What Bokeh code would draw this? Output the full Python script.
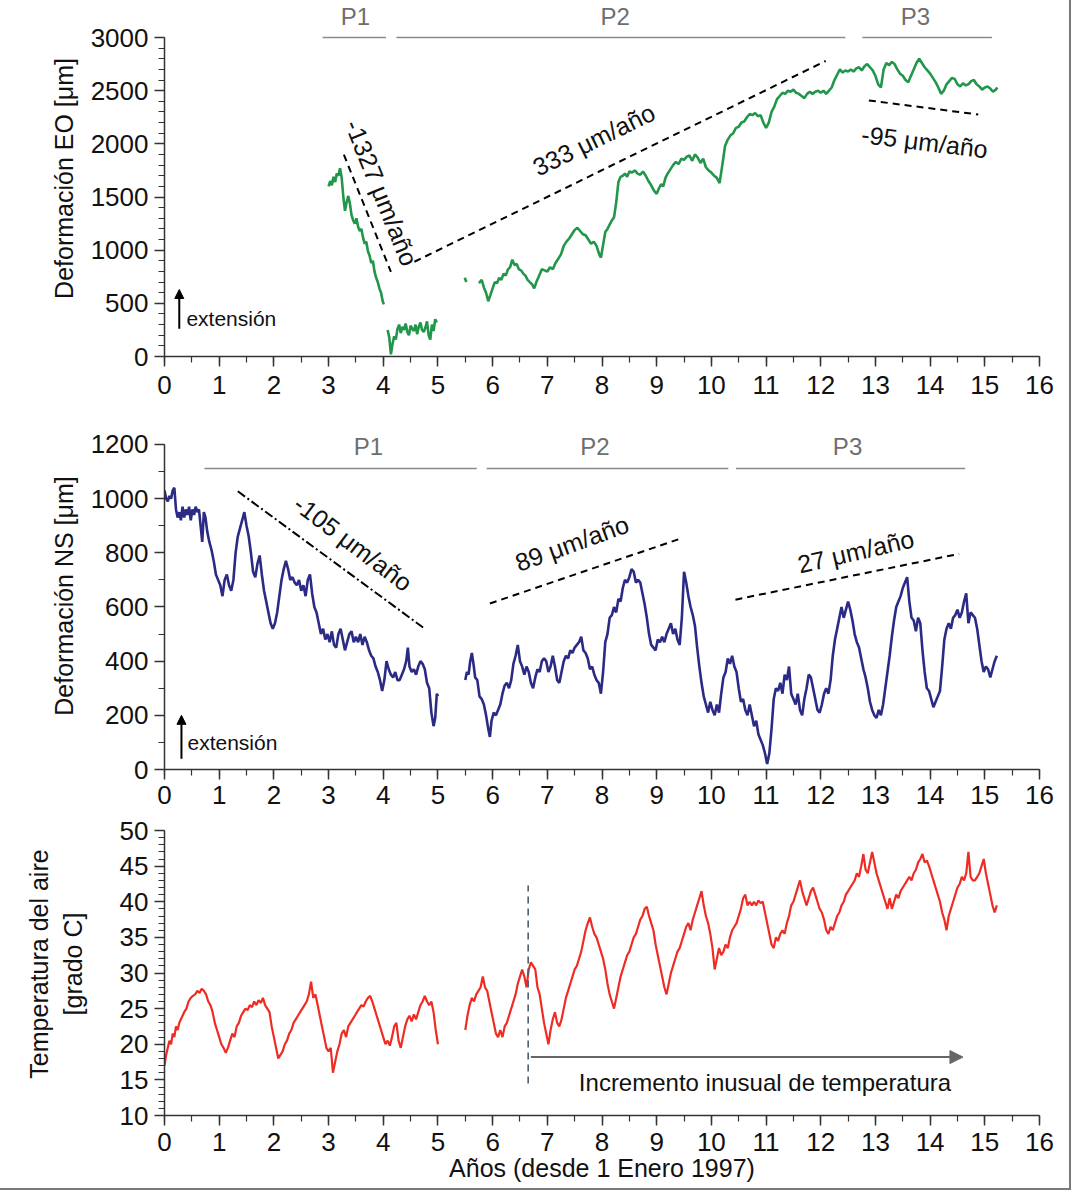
from bokeh.plotting import figure
from bokeh.layouts import column
from bokeh.models import Range1d, Label, Arrow, NormalHead, SingleIntervalTicker
from bokeh.embed import file_html
from bokeh.resources import INLINE
from bokeh.core.properties import value

FONT = "Liberation Sans"

# ---------------- DATA ----------------
# Panel 1: Deformación EO [µm]
eo_a_x = [3.00,3.03,3.06,3.09,3.12,3.15,3.18,3.21,3.24,3.27,3.30,3.33,3.36,3.39,3.42,3.45,3.48,3.51,3.54,3.57,3.60,3.63,3.66,3.69,3.72,3.75,3.78,3.81,3.84,3.87,3.90,3.93,3.96,3.99,4.01]
eo_a_y = [1600,1650,1610,1690,1640,1720,1700,1770,1680,1500,1370,1450,1510,1440,1330,1280,1250,1300,1220,1180,1200,1120,1060,1080,990,950,880,900,800,740,700,640,600,520,490]
eo_b_x = [4.08,4.11,4.14,4.17,4.20,4.23,4.26,4.29,4.32,4.35,4.38,4.41,4.44,4.47,4.50,4.53,4.56,4.59,4.62,4.65,4.68,4.71,4.74,4.77,4.80,4.83,4.86,4.89,4.92,4.95,4.98]
eo_b_y = [250,180,20,120,190,160,260,300,220,280,250,310,230,200,290,260,240,300,210,280,320,250,230,270,330,200,160,300,240,350,320]
eo_c_x = [5.49,5.52]
eo_c_y = [740,700]
eo_d_x = [5.75,5.80,5.84,5.88,5.92,5.96,6.00,6.04,6.08,6.12,6.16,6.20,6.24,6.28,6.32,6.36,6.40,6.44,6.48,6.52,6.56,6.60,6.64,6.68,6.72,6.76,6.80,6.85,6.90,6.95,
          7.00,7.05,7.10,7.15,7.20,7.25,7.30,7.35,7.40,7.45,7.50,7.55,7.60,7.65,7.70,7.75,7.80,7.85,7.90,7.95,7.98,8.02,8.06,8.10,8.14,8.18,8.22,8.26,8.30,8.34,
          8.38,8.42,8.46,8.50,8.55,8.60,8.65,8.70,8.75,8.80,8.85,8.90,8.95,9.00,9.04,9.08,9.12,9.16,9.20,9.25,9.30,9.35,9.40,9.45,9.50,9.55,9.60,9.65,9.70,9.75,
          9.80,9.85,9.90,9.95,10.00,10.05,10.10,10.15,10.20,10.25,10.30,10.35,10.40,10.45,10.50,10.55,10.60,10.65,10.70,10.75,10.80,10.85,10.90,10.95,11.00,
          11.05,11.10,11.15,11.20,11.25,11.30,11.35,11.40,11.45,11.50,11.55,11.60,11.65,11.70,11.75,11.80,11.85,11.90,11.95,12.00,12.05,12.10,12.15,12.20,12.25,
          12.30,12.35,12.40,12.45,12.50,12.55,12.60,12.65,12.70,12.75,12.80,12.85,12.90,12.95,13.00,13.05,13.10,13.15,13.20,13.25,13.30,13.35,13.40,13.45,13.50,
          13.55,13.60,13.65,13.70,13.75,13.80,13.85,13.90,13.95,14.00,14.05,14.10,14.15,14.20,14.25,14.30,14.35,14.40,14.45,14.50,14.55,14.60,14.65,14.70,14.75,
          14.80,14.85,14.90,14.95,15.00,15.05,15.10,15.15,15.20,15.23]
eo_d_y = [690,720,650,600,520,580,640,700,690,740,720,780,760,820,840,910,860,870,820,810,780,760,720,700,680,640,700,760,820,810,
          800,840,820,880,920,960,1040,1080,1110,1150,1190,1210,1180,1150,1140,1100,1060,1080,1040,960,930,1050,1170,1200,1240,1280,1310,1450,1640,1690,
          1700,1720,1690,1740,1730,1750,1720,1710,1740,1700,1650,1610,1560,1530,1580,1620,1600,1680,1720,1760,1800,1830,1810,1860,1850,1880,1890,1840,1900,1870,
          1820,1860,1780,1750,1730,1700,1680,1630,1800,1980,2040,2080,2100,2150,2160,2200,2210,2250,2280,2270,2290,2260,2270,2200,2150,
          2200,2300,2350,2420,2450,2480,2470,2500,2490,2510,2480,2470,2450,2430,2470,2490,2470,2490,2500,2480,2500,2470,2500,2530,2600,
          2650,2700,2670,2690,2680,2700,2680,2710,2720,2690,2730,2750,2720,2690,2640,2560,2530,2700,2760,2740,2770,2750,2700,2660,2640,
          2600,2580,2640,2700,2760,2800,2760,2720,2690,2660,2620,2580,2530,2470,2500,2560,2590,2620,2610,2560,2540,2570,2550,2560,2590,
          2600,2560,2540,2510,2530,2540,2520,2490,2510,2530]

# Panel 2: Deformación NS [µm]
ns_a_x = [0.00,0.03,0.06,0.09,0.12,0.15,0.18,0.21,0.24,0.27,0.30,0.33,0.36,0.39,0.42,0.45,0.48,0.51,0.54,0.57,0.60,0.63,0.66,0.69,0.72,0.75,0.78,0.82,0.86,0.90,
          0.94,0.98,1.02,1.06,1.10,1.14,1.18,1.22,1.26,1.30,1.34,1.38,1.42,1.46,1.50,1.54,1.58,1.62,1.66,1.70,1.74,1.78,1.82,1.86,1.90,1.94,1.98,2.02,2.06,2.10,
          2.14,2.18,2.22,2.26,2.30,2.34,2.38,2.42,2.46,2.50,2.54,2.58,2.62,2.66,2.70,2.74,2.78,2.82,2.86,2.90,2.94,2.98,3.02,3.06,3.10,3.14,3.18,3.22,3.26,3.30,
          3.34,3.38,3.42,3.46,3.50,3.54,3.58,3.62,3.66,3.70,3.74,3.78,3.82,3.86,3.90,3.94,3.98,4.02,4.06,4.10,4.14,4.18,4.22,4.26,4.30,4.34,4.38,4.42,4.45,4.48,
          4.52,4.56,4.60,4.64,4.68,4.72,4.76,4.80,4.84,4.88,4.92,4.95,4.98,5.00]
ns_a_y = [1030,1000,990,1010,1000,1030,1040,960,930,950,920,970,930,960,940,970,920,960,940,970,950,960,900,840,950,930,880,840,810,770,
          720,700,680,640,700,720,680,660,700,800,860,890,920,950,900,860,800,730,710,760,790,720,660,620,580,540,520,540,580,640,
          700,740,770,740,700,710,690,680,700,660,680,640,700,720,650,600,580,540,500,520,480,500,470,510,460,450,500,520,480,440,
          470,500,510,470,490,470,500,460,490,470,440,420,410,380,360,330,290,330,400,370,350,340,360,330,330,350,370,400,450,380,
          360,370,350,380,400,390,370,320,300,210,160,190,280,270]
ns_b_x = [5.50,5.53,5.56,5.59,5.62,5.65,5.68,5.72,5.76,5.80,5.84,5.88,5.92,5.95,5.98,6.02,6.06,6.10,6.14,6.18,6.22,6.26,6.30,6.34,6.38,6.42,6.46,6.50,6.54,6.58,
          6.62,6.66,6.70,6.74,6.78,6.82,6.86,6.90,6.94,6.98,7.02,7.06,7.10,7.14,7.18,7.22,7.26,7.30,7.34,7.38,7.42,7.46,7.50,7.54,7.58,7.62,7.66,7.70,7.74,7.78,
          7.82,7.86,7.90,7.94,7.98,8.02,8.06,8.10,8.14,8.18,8.22,8.26,8.30,8.34,8.38,8.42,8.46,8.50,8.54,8.58,8.62,8.66,8.70,8.74,8.78,8.82,8.86,8.90,8.94,8.98,
          9.02,9.06,9.10,9.14,9.18,9.22,9.26,9.30,9.34,9.38,9.42,9.46,9.50,9.54,9.58,9.62,9.66,9.70,9.74,9.78,9.82,9.86,9.90,9.94,9.98,10.02,10.06,10.10,10.14,10.18,
          10.22,10.26,10.30,10.34,10.38,10.42,10.46,10.50,10.54,10.58,10.62,10.66,10.70,10.74,10.78,10.82,10.86,10.90,10.94,10.98,11.02,11.06,11.10,11.14,11.18,11.22,11.26,11.30,11.34,11.38,
          11.42,11.46,11.50,11.54,11.58,11.62,11.66,11.70,11.74,11.78,11.82,11.86,11.90,11.94,11.98,12.02,12.06,12.10,12.14,12.18,12.22,12.26,12.30,12.34,12.38,12.42,12.46,12.50,12.54,12.58,
          12.62,12.66,12.70,12.74,12.78,12.82,12.86,12.90,12.94,12.98,13.02,13.06,13.10,13.14,13.18,13.22,13.26,13.30,13.34,13.38,13.42,13.46,13.50,13.54,13.58,13.62,13.66,13.70,13.74,13.78,
          13.82,13.86,13.90,13.94,13.98,14.02,14.06,14.10,14.14,14.18,14.22,14.26,14.30,14.34,14.38,14.42,14.46,14.50,14.54,14.58,14.62,14.66,14.70,14.74,14.78,14.82,14.86,14.90,14.94,14.98,
          15.02,15.06,15.10,15.14,15.18,15.22]
ns_b_y = [330,360,350,400,430,390,340,330,270,260,240,200,150,120,180,210,200,220,240,280,310,320,300,330,390,420,460,400,380,350,
          380,360,320,300,340,370,360,400,410,400,360,380,420,380,330,320,360,400,420,410,440,430,450,460,470,490,440,430,410,370,
          380,350,330,320,280,360,470,500,560,570,600,580,630,620,670,700,690,710,740,730,690,700,690,650,610,560,500,460,450,440,
          480,470,490,470,500,520,540,500,520,480,460,560,730,690,640,600,570,530,450,380,320,270,240,210,250,220,200,240,210,280,
          340,360,410,390,420,380,360,300,250,260,220,200,240,200,160,180,130,110,90,60,20,60,150,260,300,290,320,280,350,330,
          380,280,260,240,280,220,200,260,300,350,340,300,260,220,210,240,280,300,280,330,420,480,520,560,600,560,590,620,590,550,
          500,470,450,410,370,340,300,250,220,200,190,220,200,240,300,360,420,490,550,600,620,640,670,690,710,620,560,550,510,560,
          540,440,360,300,290,260,230,250,270,290,380,480,520,540,520,560,570,590,560,580,620,650,540,580,570,560,520,460,400,360,
          380,370,340,370,400,420]

# Panel 3: Temperatura del aire [grado C]
ta_a_x = [0.00,0.03,0.06,0.09,0.12,0.15,0.18,0.21,0.24,0.27,0.30,0.33,0.36,0.40,0.44,0.48,0.52,0.56,0.60,0.64,0.68,0.72,0.76,0.80,0.84,0.88,0.92,0.96,1.00,1.04,
          1.08,1.12,1.16,1.20,1.24,1.28,1.32,1.36,1.40,1.44,1.48,1.52,1.56,1.60,1.64,1.68,1.72,1.76,1.80,1.84,1.88,1.92,1.96,2.00,2.04,2.08,2.12,2.16,2.20,2.24,
          2.28,2.32,2.36,2.40,2.44,2.48,2.52,2.56,2.60,2.64,2.68,2.72,2.76,2.80,2.84,2.88,2.92,2.96,3.00,3.04,3.08,3.12,3.16,3.20,3.24,3.28,3.32,3.36,3.40,3.44,
          3.48,3.52,3.56,3.60,3.64,3.68,3.72,3.76,3.80,3.84,3.88,3.92,3.96,4.00,4.04,4.08,4.12,4.16,4.20,4.24,4.28,4.32,4.36,4.40,4.44,4.48,4.52,4.56,4.60,4.64,
          4.68,4.72,4.76,4.80,4.84,4.88,4.92,4.96,5.00]
ta_a_y = [17.0,18.5,19.5,20.5,20.0,21.5,21.0,22.5,22.0,23.0,23.5,24.0,24.5,25.0,26.0,26.5,26.8,27.0,27.5,27.2,27.8,27.5,27.0,26.0,25.5,24.5,23.0,22.0,21.0,20.0,
          19.5,18.8,19.5,20.5,21.5,21.0,22.5,23.0,24.0,24.5,25.0,24.8,25.5,25.2,26.0,25.5,26.2,25.8,26.5,25.5,25.0,24.5,22.5,21.0,19.5,18.0,18.5,19.0,20.0,20.5,
          21.5,22.0,23.0,23.5,24.0,24.5,25.0,25.5,26.0,27.0,28.8,26.5,27.0,25.5,24.0,22.5,21.0,19.5,19.0,19.5,16.0,17.5,19.0,20.0,21.5,22.0,21.0,22.5,23.0,23.5,
          24.0,24.5,25.0,25.5,25.3,26.0,26.5,26.8,26.0,25.0,24.0,23.0,22.0,21.0,20.0,20.5,19.8,21.0,22.5,23.0,20.5,19.5,21.0,22.5,23.5,24.0,23.2,24.2,23.5,24.5,
          25.5,26.0,26.8,26.0,25.5,26.0,24.5,22.0,20.0]
ta_b_x = [5.50,5.54,5.58,5.62,5.66,5.70,5.74,5.78,5.82,5.86,5.90,5.94,5.98,6.02,6.06,6.10,6.14,6.18,6.22,6.26,6.30,6.34,6.38,6.42,6.46,6.50,6.54,6.58,6.62,6.66,
          6.70,6.74,6.78,6.82,6.86,6.90,6.94,6.98,7.02,7.06,7.10,7.14,7.18,7.22,7.26,7.30,7.34,7.38,7.42,7.46,7.50,7.54,7.58,7.62,7.66,7.70,7.74,7.78,7.82,7.86,
          7.90,7.94,7.98,8.02,8.06,8.10,8.14,8.18,8.22,8.26,8.30,8.34,8.38,8.42,8.46,8.50,8.54,8.58,8.62,8.66,8.70,8.74,8.78,8.82,8.86,8.90,8.94,8.98,9.02,9.06,
          9.10,9.14,9.18,9.22,9.26,9.30,9.34,9.38,9.42,9.46,9.50,9.54,9.58,9.62,9.66,9.70,9.74,9.78,9.82,9.86,9.90,9.94,9.98,10.02,10.06,10.10,10.14,10.18,10.22,10.26,
          10.30,10.34,10.38,10.42,10.46,10.50,10.54,10.58,10.62,10.66,10.70,10.74,10.78,10.82,10.86,10.90,10.94,10.98,11.02,11.06,11.10,11.14,11.18,11.22,11.26,11.30,11.34,11.38,11.42,11.46,
          11.50,11.54,11.58,11.62,11.66,11.70,11.74,11.78,11.82,11.86,11.90,11.94,11.98,12.02,12.06,12.10,12.14,12.18,12.22,12.26,12.30,12.34,12.38,12.42,12.46,12.50,12.54,12.58,12.62,12.66,
          12.70,12.74,12.78,12.82,12.86,12.90,12.94,12.98,13.02,13.06,13.10,13.14,13.18,13.22,13.26,13.30,13.34,13.38,13.42,13.46,13.50,13.54,13.58,13.62,13.66,13.70,13.74,13.78,13.82,13.86,
          13.90,13.94,13.98,14.02,14.06,14.10,14.14,14.18,14.22,14.26,14.30,14.34,14.38,14.42,14.46,14.50,14.54,14.58,14.62,14.66,14.70,14.74,14.78,14.82,14.86,14.90,14.94,14.98,15.02,15.06,
          15.10,15.14,15.18,15.22]
ta_b_y = [22.0,24.0,25.5,26.5,26.0,27.0,27.5,28.0,29.5,28.0,27.5,26.0,24.5,23.0,21.5,21.0,22.0,21.0,22.5,23.0,24.0,25.0,26.0,27.0,28.5,29.5,30.5,29.5,28.0,30.5,
          31.5,31.0,30.5,28.0,27.0,25.0,23.0,21.5,20.0,22.0,23.5,24.5,23.0,22.5,23.5,25.0,26.5,27.5,28.5,29.5,30.5,31.0,32.0,33.0,34.5,36.0,37.0,37.8,36.5,35.5,
          35.0,34.0,33.0,32.0,30.5,28.5,27.0,26.0,25.0,26.5,28.0,29.5,30.5,31.5,32.5,33.0,34.0,35.0,35.5,36.5,37.5,38.0,39.0,39.3,38.0,37.0,36.0,34.0,32.5,31.0,
          29.5,28.0,27.0,28.5,30.0,31.0,32.0,33.0,33.5,34.5,35.5,36.5,37.0,36.0,37.5,38.5,39.5,40.5,41.5,39.5,38.0,37.0,35.5,33.5,30.5,32.0,33.5,32.5,33.0,34.0,
          33.5,35.0,36.0,36.5,37.0,38.0,39.0,40.5,41.0,39.5,40.0,39.5,40.0,39.5,40.2,39.8,40.0,38.5,37.0,35.5,34.0,33.5,35.0,34.5,35.5,36.0,35.5,37.0,38.0,39.5,
          40.0,41.0,42.0,43.0,41.5,40.5,39.5,40.5,41.5,42.0,41.0,40.0,39.0,38.5,37.5,36.0,35.5,36.5,36.0,37.0,38.0,38.5,39.5,40.0,41.0,41.5,42.0,42.5,43.0,44.0,
          43.5,45.0,46.7,44.5,44.0,45.5,47.0,45.5,44.0,43.0,42.0,41.0,40.0,39.0,40.5,39.0,40.0,41.0,40.5,41.5,42.0,42.5,43.0,43.5,43.0,44.0,44.5,45.5,46.0,46.7,
          45.5,45.8,45.0,44.0,43.0,42.0,41.0,40.0,38.5,37.5,36.0,38.0,39.0,40.0,41.0,42.0,42.5,43.5,43.0,44.0,47.0,43.5,43.0,43.0,43.5,44.0,45.0,46.0,44.0,42.5,
          41.0,39.5,38.5,39.5]

# Periods (start, end, label) and trend lines (rates)
eo_period_start = [2.89, 4.24, 12.76]
eo_period_end = [4.05, 12.45, 15.13]
eo_period_label = ["P1", "P2", "P3"]
eo_period_label_x = [3.49, 8.24, 13.73]
ns_period_start = [0.73, 5.89, 10.45]
ns_period_end = [5.71, 10.31, 14.64]
ns_period_label = ["P1", "P2", "P3"]
ns_period_label_x = [3.73, 7.87, 12.49]

eo_trend1_x, eo_trend1_y = [3.28, 4.14], [1898, 796]
eo_trend2_x, eo_trend2_y = [4.57, 12.09], [891, 2779]
eo_trend3_x, eo_trend3_y = [12.88, 14.88], [2408, 2276]
ns_trend1_x, ns_trend1_y = [1.34, 4.75], [1027, 521]
ns_trend2_x, ns_trend2_y = [5.95, 9.40], [613, 850]
ns_trend3_x, ns_trend3_y = [10.44, 14.53], [627, 796]

onset_year = 6.65

GREEN = "#22964a"
NAVY = "#2b2a85"
RED = "#ee2c24"
AXIS = "#333333"


def make_fig(height, ylo, yhi, bleft, bright, bbottom):
    p = figure(width=1066, height=height, x_range=Range1d(0, 16), y_range=Range1d(ylo, yhi),
               output_backend="svg", toolbar_location=None,
               min_border_left=bleft, min_border_right=bright, min_border_top=0,
               min_border_bottom=bbottom)
    p.outline_line_color = None
    p.grid.visible = False
    p.background_fill_color = "white"
    p.border_fill_color = "white"
    for ax in (p.xaxis[0], p.yaxis[0]):
        ax.axis_line_color = AXIS
        ax.axis_line_width = 1.5
        ax.major_tick_line_color = AXIS
        ax.major_tick_line_width = 1.5
        ax.minor_tick_line_color = AXIS
        ax.minor_tick_line_width = 1.2
        ax.major_tick_in = 0
        ax.major_tick_out = 10
        ax.minor_tick_in = 0
        ax.minor_tick_out = 6
        ax.major_label_text_font = FONT
        ax.major_label_text_font_size = "26px"
        ax.major_label_text_color = "#111111"
        ax.axis_label_text_font = FONT
        ax.axis_label_text_font_size = "25px"
        ax.axis_label_text_font_style = "normal"
        ax.axis_label_text_color = "#111111"
        ax.major_label_standoff = 6
    p.xaxis[0].ticker = SingleIntervalTicker(interval=1, num_minor_ticks=2)
    p.xaxis[0].bounds = (0, 16)
    return p


def add_label(p, x, y, text, angle=0, size="25px", color="#111111", align="center"):
    p.add_layout(Label(x=x, y=y, text=text, angle=angle, angle_units="deg",
                       text_font=FONT, text_font_size=size, text_color=color,
                       text_align=align, text_baseline="middle"))


# ---------------- PANEL 1 ----------------
p1 = make_fig(422, 0, 3348, 164, 22, 66)
p1.yaxis[0].bounds = (0, 3000)
p1.yaxis[0].ticker = SingleIntervalTicker(interval=500, num_minor_ticks=5)
p1.yaxis[0].axis_label = "Deformación EO [μm]"
p1.yaxis[0].axis_label_standoff = 10
p1.xaxis[0].major_label_standoff = 9

for xs, ys in ((eo_a_x, eo_a_y), (eo_b_x, eo_b_y), (eo_c_x, eo_c_y), (eo_d_x, eo_d_y)):
    p1.line(xs, ys, line_color=GREEN, line_width=2.6)

p1.segment(x0=eo_period_start, x1=eo_period_end, y0=[3000] * 3, y1=[3000] * 3,
           line_color="#8a8a8a", line_width=1.5)
p1.text(x=eo_period_label_x, y=[3195] * 3,
        text=eo_period_label, text_font=value(FONT), text_font_size="24px",
        text_color="#6e6e6e", text_align="center", text_baseline="middle")

p1.line(eo_trend1_x, eo_trend1_y, line_color="black", line_width=2, line_dash="7 5")
p1.line(eo_trend2_x, eo_trend2_y, line_color="black", line_width=2, line_dash="7 5")
p1.line(eo_trend3_x, eo_trend3_y, line_color="black", line_width=2, line_dash="7 5")
add_label(p1, 3.97, 1540, "-1327 μm/año", angle=-68)
add_label(p1, 7.85, 2040, "333 μm/año", angle=26)
add_label(p1, 13.9, 2020, "-95 μm/año", angle=-7)

p1.add_layout(Arrow(end=NormalHead(size=9, fill_color="black", line_color="black"),
                    x_start=0.27, y_start=260, x_end=0.27, y_end=630,
                    line_color="black", line_width=2))
add_label(p1, 0.40, 357, "extensión", size="21px", align="left")

# ---------------- PANEL 2 ----------------
p2 = make_fig(390, 0, 1281, 159, 27, 43)
p2.yaxis[0].bounds = (0, 1200)
p2.yaxis[0].ticker = SingleIntervalTicker(interval=200, num_minor_ticks=2)
p2.yaxis[0].axis_label = "Deformación NS [μm]"
p2.yaxis[0].axis_label_standoff = 10

for xs, ys in ((ns_a_x, ns_a_y), (ns_b_x, ns_b_y)):
    p2.line(xs, ys, line_color=NAVY, line_width=2.6)

p2.segment(x0=ns_period_start, x1=ns_period_end, y0=[1111] * 3, y1=[1111] * 3,
           line_color="#8a8a8a", line_width=1.5)
p2.text(x=ns_period_label_x, y=[1192] * 3,
        text=ns_period_label, text_font=value(FONT), text_font_size="24px",
        text_color="#6e6e6e", text_align="center", text_baseline="middle")

p2.line(ns_trend1_x, ns_trend1_y, line_color="black", line_width=2, line_dash="9 3 2 3")
p2.line(ns_trend2_x, ns_trend2_y, line_color="black", line_width=2, line_dash="7 5")
p2.line(ns_trend3_x, ns_trend3_y, line_color="black", line_width=2, line_dash="7 5")
add_label(p2, 3.45, 835, "-105 μm/año", angle=-37)
add_label(p2, 7.45, 835, "89 μm/año", angle=20)
add_label(p2, 12.64, 805, "27 μm/año", angle=13)

p2.add_layout(Arrow(end=NormalHead(size=9, fill_color="black", line_color="black"),
                    x_start=0.31, y_start=40, x_end=0.31, y_end=200,
                    line_color="black", line_width=2))
add_label(p2, 0.42, 100, "extensión", size="21px", align="left")

# ---------------- PANEL 3 ----------------
p3 = make_fig(373, 10, 52.53, 159, 27, 70)
p3.yaxis[0].bounds = (10, 50)
p3.yaxis[0].ticker = SingleIntervalTicker(interval=5, num_minor_ticks=5)
p3.yaxis[0].axis_label = "Temperatura del aire\n[grado C]"
p3.yaxis[0].axis_label_standoff = 30
p3.xaxis[0].axis_label = "Años (desde 1 Enero 1997)"
p3.xaxis[0].axis_label_standoff = 0
p3.xaxis[0].major_label_standoff = 7

for xs, ys in ((ta_a_x, ta_a_y), (ta_b_x, ta_b_y)):
    p3.line(xs, ys, line_color=RED, line_width=2.2)

p3.line([onset_year, onset_year], [14.5, 42.3], line_color="#4d5d6b", line_width=1.6,
        line_dash="7 5")
p3.add_layout(Arrow(end=NormalHead(size=13, fill_color="#666666", line_color="#666666"),
                    x_start=onset_year + 0.05, y_start=18.2, x_end=14.6, y_end=18.2,
                    line_color="#666666", line_width=2))
add_label(p3, 10.98, 14.7, "Incremento inusual de temperatura", size="24px")

layout = column(p1, p2, p3, styles={"outline": "2px solid #7a7a7a", "outline-offset": "3px",
                                    "background": "white"})

with open("out.html", "w") as f:
    f.write(file_html(layout, INLINE))
